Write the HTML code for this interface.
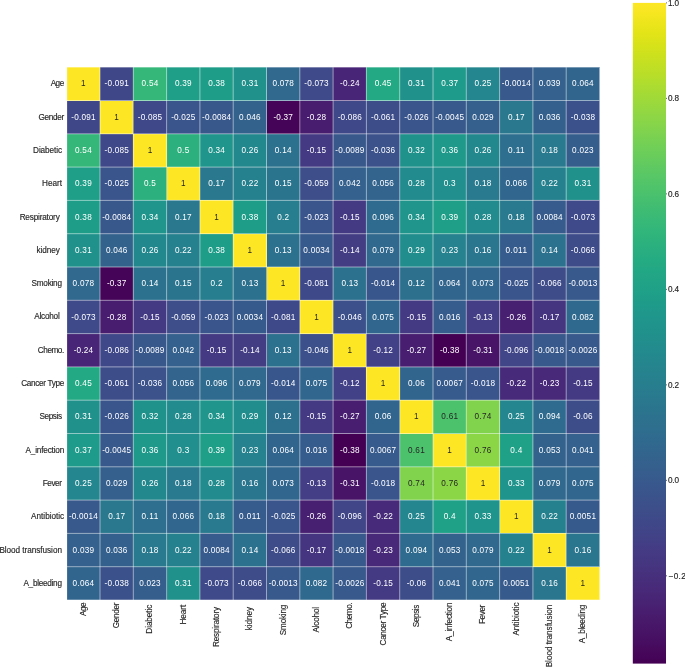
<!DOCTYPE html>
<html><head><meta charset="utf-8"><title>Correlation heatmap</title>
<style>html,body{margin:0;padding:0;background:#fff;width:685px;height:667px;overflow:hidden;font-family:"Liberation Sans",sans-serif}svg{display:block;will-change:transform}</style>
</head><body>
<svg width="685" height="667" viewBox="0 0 685 667">
<rect width="685" height="667" fill="#ffffff"/>
<g shape-rendering="crispEdges"><rect x="66.70" y="67.20" width="33.30" height="33.30" fill="#fde725"/><rect x="100.00" y="67.20" width="33.30" height="33.30" fill="#3f4788"/><rect x="133.30" y="67.20" width="33.30" height="33.30" fill="#35b779"/><rect x="166.60" y="67.20" width="33.30" height="33.30" fill="#1f9f88"/><rect x="199.90" y="67.20" width="33.30" height="33.30" fill="#1e9d89"/><rect x="233.20" y="67.20" width="33.30" height="33.30" fill="#21918c"/><rect x="266.50" y="67.20" width="33.30" height="33.30" fill="#31688e"/><rect x="299.80" y="67.20" width="33.30" height="33.30" fill="#3e4a89"/><rect x="333.10" y="67.20" width="33.30" height="33.30" fill="#482576"/><rect x="366.40" y="67.20" width="33.30" height="33.30" fill="#23a983"/><rect x="399.70" y="67.20" width="33.30" height="33.30" fill="#21918c"/><rect x="433.00" y="67.20" width="33.30" height="33.30" fill="#1e9b8a"/><rect x="466.30" y="67.20" width="33.30" height="33.30" fill="#24868e"/><rect x="499.60" y="67.20" width="33.30" height="33.30" fill="#38598c"/><rect x="532.90" y="67.20" width="33.30" height="33.30" fill="#34618d"/><rect x="566.20" y="67.20" width="33.30" height="33.30" fill="#32658e"/><rect x="66.70" y="100.50" width="33.30" height="33.30" fill="#3f4788"/><rect x="100.00" y="100.50" width="33.30" height="33.30" fill="#fde725"/><rect x="133.30" y="100.50" width="33.30" height="33.30" fill="#3f4889"/><rect x="166.60" y="100.50" width="33.30" height="33.30" fill="#3a548c"/><rect x="199.90" y="100.50" width="33.30" height="33.30" fill="#38588c"/><rect x="233.20" y="100.50" width="33.30" height="33.30" fill="#33628d"/><rect x="266.50" y="100.50" width="33.30" height="33.30" fill="#450457"/><rect x="299.80" y="100.50" width="33.30" height="33.30" fill="#481c6e"/><rect x="333.10" y="100.50" width="33.30" height="33.30" fill="#3f4889"/><rect x="366.40" y="100.50" width="33.30" height="33.30" fill="#3d4d8a"/><rect x="399.70" y="100.50" width="33.30" height="33.30" fill="#3a548c"/><rect x="433.00" y="100.50" width="33.30" height="33.30" fill="#38598c"/><rect x="466.30" y="100.50" width="33.30" height="33.30" fill="#355f8d"/><rect x="499.60" y="100.50" width="33.30" height="33.30" fill="#2a788e"/><rect x="532.90" y="100.50" width="33.30" height="33.30" fill="#34608d"/><rect x="566.20" y="100.50" width="33.30" height="33.30" fill="#3b518b"/><rect x="66.70" y="133.80" width="33.30" height="33.30" fill="#35b779"/><rect x="100.00" y="133.80" width="33.30" height="33.30" fill="#3f4889"/><rect x="133.30" y="133.80" width="33.30" height="33.30" fill="#fde725"/><rect x="166.60" y="133.80" width="33.30" height="33.30" fill="#2cb17e"/><rect x="199.90" y="133.80" width="33.30" height="33.30" fill="#1f958b"/><rect x="233.20" y="133.80" width="33.30" height="33.30" fill="#23888e"/><rect x="266.50" y="133.80" width="33.30" height="33.30" fill="#2c728e"/><rect x="299.80" y="133.80" width="33.30" height="33.30" fill="#443a83"/><rect x="333.10" y="133.80" width="33.30" height="33.30" fill="#38588c"/><rect x="366.40" y="133.80" width="33.30" height="33.30" fill="#3b528b"/><rect x="399.70" y="133.80" width="33.30" height="33.30" fill="#20928c"/><rect x="433.00" y="133.80" width="33.30" height="33.30" fill="#1f998a"/><rect x="466.30" y="133.80" width="33.30" height="33.30" fill="#23888e"/><rect x="499.60" y="133.80" width="33.30" height="33.30" fill="#2e6e8e"/><rect x="532.90" y="133.80" width="33.30" height="33.30" fill="#297a8e"/><rect x="566.20" y="133.80" width="33.30" height="33.30" fill="#355e8d"/><rect x="66.70" y="167.10" width="33.30" height="33.30" fill="#1f9f88"/><rect x="100.00" y="167.10" width="33.30" height="33.30" fill="#3a548c"/><rect x="133.30" y="167.10" width="33.30" height="33.30" fill="#2cb17e"/><rect x="166.60" y="167.10" width="33.30" height="33.30" fill="#fde725"/><rect x="199.90" y="167.10" width="33.30" height="33.30" fill="#2a788e"/><rect x="233.20" y="167.10" width="33.30" height="33.30" fill="#26818e"/><rect x="266.50" y="167.10" width="33.30" height="33.30" fill="#2b748e"/><rect x="299.80" y="167.10" width="33.30" height="33.30" fill="#3d4e8a"/><rect x="333.10" y="167.10" width="33.30" height="33.30" fill="#34618d"/><rect x="366.40" y="167.10" width="33.30" height="33.30" fill="#32648e"/><rect x="399.70" y="167.10" width="33.30" height="33.30" fill="#228b8d"/><rect x="433.00" y="167.10" width="33.30" height="33.30" fill="#218f8d"/><rect x="466.30" y="167.10" width="33.30" height="33.30" fill="#297a8e"/><rect x="499.60" y="167.10" width="33.30" height="33.30" fill="#31668e"/><rect x="532.90" y="167.10" width="33.30" height="33.30" fill="#26818e"/><rect x="566.20" y="167.10" width="33.30" height="33.30" fill="#21918c"/><rect x="66.70" y="200.40" width="33.30" height="33.30" fill="#1e9d89"/><rect x="100.00" y="200.40" width="33.30" height="33.30" fill="#38588c"/><rect x="133.30" y="200.40" width="33.30" height="33.30" fill="#1f958b"/><rect x="166.60" y="200.40" width="33.30" height="33.30" fill="#2a788e"/><rect x="199.90" y="200.40" width="33.30" height="33.30" fill="#fde725"/><rect x="233.20" y="200.40" width="33.30" height="33.30" fill="#1e9d89"/><rect x="266.50" y="200.40" width="33.30" height="33.30" fill="#277e8e"/><rect x="299.80" y="200.40" width="33.30" height="33.30" fill="#3a548c"/><rect x="333.10" y="200.40" width="33.30" height="33.30" fill="#443a83"/><rect x="366.40" y="200.40" width="33.30" height="33.30" fill="#2f6b8e"/><rect x="399.70" y="200.40" width="33.30" height="33.30" fill="#1f958b"/><rect x="433.00" y="200.40" width="33.30" height="33.30" fill="#1f9f88"/><rect x="466.30" y="200.40" width="33.30" height="33.30" fill="#228b8d"/><rect x="499.60" y="200.40" width="33.30" height="33.30" fill="#297a8e"/><rect x="532.90" y="200.40" width="33.30" height="33.30" fill="#375b8d"/><rect x="566.20" y="200.40" width="33.30" height="33.30" fill="#3e4a89"/><rect x="66.70" y="233.70" width="33.30" height="33.30" fill="#21918c"/><rect x="100.00" y="233.70" width="33.30" height="33.30" fill="#33628d"/><rect x="133.30" y="233.70" width="33.30" height="33.30" fill="#23888e"/><rect x="166.60" y="233.70" width="33.30" height="33.30" fill="#26818e"/><rect x="199.90" y="233.70" width="33.30" height="33.30" fill="#1e9d89"/><rect x="233.20" y="233.70" width="33.30" height="33.30" fill="#fde725"/><rect x="266.50" y="233.70" width="33.30" height="33.30" fill="#2c718e"/><rect x="299.80" y="233.70" width="33.30" height="33.30" fill="#375a8c"/><rect x="333.10" y="233.70" width="33.30" height="33.30" fill="#433d84"/><rect x="366.40" y="233.70" width="33.30" height="33.30" fill="#31688e"/><rect x="399.70" y="233.70" width="33.30" height="33.30" fill="#228d8d"/><rect x="433.00" y="233.70" width="33.30" height="33.30" fill="#26828e"/><rect x="466.30" y="233.70" width="33.30" height="33.30" fill="#2a768e"/><rect x="499.60" y="233.70" width="33.30" height="33.30" fill="#365c8d"/><rect x="532.90" y="233.70" width="33.30" height="33.30" fill="#2c728e"/><rect x="566.20" y="233.70" width="33.30" height="33.30" fill="#3e4c8a"/><rect x="66.70" y="267.00" width="33.30" height="33.30" fill="#31688e"/><rect x="100.00" y="267.00" width="33.30" height="33.30" fill="#450457"/><rect x="133.30" y="267.00" width="33.30" height="33.30" fill="#2c728e"/><rect x="166.60" y="267.00" width="33.30" height="33.30" fill="#2b748e"/><rect x="199.90" y="267.00" width="33.30" height="33.30" fill="#277e8e"/><rect x="233.20" y="267.00" width="33.30" height="33.30" fill="#2c718e"/><rect x="266.50" y="267.00" width="33.30" height="33.30" fill="#fde725"/><rect x="299.80" y="267.00" width="33.30" height="33.30" fill="#3e4989"/><rect x="333.10" y="267.00" width="33.30" height="33.30" fill="#2c718e"/><rect x="366.40" y="267.00" width="33.30" height="33.30" fill="#39568c"/><rect x="399.70" y="267.00" width="33.30" height="33.30" fill="#2d708e"/><rect x="433.00" y="267.00" width="33.30" height="33.30" fill="#32658e"/><rect x="466.30" y="267.00" width="33.30" height="33.30" fill="#31678e"/><rect x="499.60" y="267.00" width="33.30" height="33.30" fill="#3a548c"/><rect x="532.90" y="267.00" width="33.30" height="33.30" fill="#3e4c8a"/><rect x="566.20" y="267.00" width="33.30" height="33.30" fill="#38598c"/><rect x="66.70" y="300.30" width="33.30" height="33.30" fill="#3e4a89"/><rect x="100.00" y="300.30" width="33.30" height="33.30" fill="#481c6e"/><rect x="133.30" y="300.30" width="33.30" height="33.30" fill="#443a83"/><rect x="166.60" y="300.30" width="33.30" height="33.30" fill="#3d4e8a"/><rect x="199.90" y="300.30" width="33.30" height="33.30" fill="#3a548c"/><rect x="233.20" y="300.30" width="33.30" height="33.30" fill="#375a8c"/><rect x="266.50" y="300.30" width="33.30" height="33.30" fill="#3e4989"/><rect x="299.80" y="300.30" width="33.30" height="33.30" fill="#fde725"/><rect x="333.10" y="300.30" width="33.30" height="33.30" fill="#3c508b"/><rect x="366.40" y="300.30" width="33.30" height="33.30" fill="#31678e"/><rect x="399.70" y="300.30" width="33.30" height="33.30" fill="#443a83"/><rect x="433.00" y="300.30" width="33.30" height="33.30" fill="#365c8d"/><rect x="466.30" y="300.30" width="33.30" height="33.30" fill="#433e85"/><rect x="499.60" y="300.30" width="33.30" height="33.30" fill="#482071"/><rect x="532.90" y="300.30" width="33.30" height="33.30" fill="#453581"/><rect x="566.20" y="300.30" width="33.30" height="33.30" fill="#30698e"/><rect x="66.70" y="333.60" width="33.30" height="33.30" fill="#482576"/><rect x="100.00" y="333.60" width="33.30" height="33.30" fill="#3f4889"/><rect x="133.30" y="333.60" width="33.30" height="33.30" fill="#38588c"/><rect x="166.60" y="333.60" width="33.30" height="33.30" fill="#34618d"/><rect x="199.90" y="333.60" width="33.30" height="33.30" fill="#443a83"/><rect x="233.20" y="333.60" width="33.30" height="33.30" fill="#433d84"/><rect x="266.50" y="333.60" width="33.30" height="33.30" fill="#2c718e"/><rect x="299.80" y="333.60" width="33.30" height="33.30" fill="#3c508b"/><rect x="333.10" y="333.60" width="33.30" height="33.30" fill="#fde725"/><rect x="366.40" y="333.60" width="33.30" height="33.30" fill="#424086"/><rect x="399.70" y="333.60" width="33.30" height="33.30" fill="#481f70"/><rect x="433.00" y="333.60" width="33.30" height="33.30" fill="#440154"/><rect x="466.30" y="333.60" width="33.30" height="33.30" fill="#481467"/><rect x="499.60" y="333.60" width="33.30" height="33.30" fill="#404688"/><rect x="532.90" y="333.60" width="33.30" height="33.30" fill="#38598c"/><rect x="566.20" y="333.60" width="33.30" height="33.30" fill="#38598c"/><rect x="66.70" y="366.90" width="33.30" height="33.30" fill="#23a983"/><rect x="100.00" y="366.90" width="33.30" height="33.30" fill="#3d4d8a"/><rect x="133.30" y="366.90" width="33.30" height="33.30" fill="#3b528b"/><rect x="166.60" y="366.90" width="33.30" height="33.30" fill="#32648e"/><rect x="199.90" y="366.90" width="33.30" height="33.30" fill="#2f6b8e"/><rect x="233.20" y="366.90" width="33.30" height="33.30" fill="#31688e"/><rect x="266.50" y="366.90" width="33.30" height="33.30" fill="#39568c"/><rect x="299.80" y="366.90" width="33.30" height="33.30" fill="#31678e"/><rect x="333.10" y="366.90" width="33.30" height="33.30" fill="#424086"/><rect x="366.40" y="366.90" width="33.30" height="33.30" fill="#fde725"/><rect x="399.70" y="366.90" width="33.30" height="33.30" fill="#32658e"/><rect x="433.00" y="366.90" width="33.30" height="33.30" fill="#375b8d"/><rect x="466.30" y="366.90" width="33.30" height="33.30" fill="#39558c"/><rect x="499.60" y="366.90" width="33.30" height="33.30" fill="#472a7a"/><rect x="532.90" y="366.90" width="33.30" height="33.30" fill="#482878"/><rect x="566.20" y="366.90" width="33.30" height="33.30" fill="#443a83"/><rect x="66.70" y="400.20" width="33.30" height="33.30" fill="#21918c"/><rect x="100.00" y="400.20" width="33.30" height="33.30" fill="#3a548c"/><rect x="133.30" y="400.20" width="33.30" height="33.30" fill="#20928c"/><rect x="166.60" y="400.20" width="33.30" height="33.30" fill="#228b8d"/><rect x="199.90" y="400.20" width="33.30" height="33.30" fill="#1f958b"/><rect x="233.20" y="400.20" width="33.30" height="33.30" fill="#228d8d"/><rect x="266.50" y="400.20" width="33.30" height="33.30" fill="#2d708e"/><rect x="299.80" y="400.20" width="33.30" height="33.30" fill="#443a83"/><rect x="333.10" y="400.20" width="33.30" height="33.30" fill="#481f70"/><rect x="366.40" y="400.20" width="33.30" height="33.30" fill="#32658e"/><rect x="399.70" y="400.20" width="33.30" height="33.30" fill="#fde725"/><rect x="433.00" y="400.20" width="33.30" height="33.30" fill="#4cc26c"/><rect x="466.30" y="400.20" width="33.30" height="33.30" fill="#81d34d"/><rect x="499.60" y="400.20" width="33.30" height="33.30" fill="#24868e"/><rect x="532.90" y="400.20" width="33.30" height="33.30" fill="#2f6b8e"/><rect x="566.20" y="400.20" width="33.30" height="33.30" fill="#3d4d8a"/><rect x="66.70" y="433.50" width="33.30" height="33.30" fill="#1e9b8a"/><rect x="100.00" y="433.50" width="33.30" height="33.30" fill="#38598c"/><rect x="133.30" y="433.50" width="33.30" height="33.30" fill="#1f998a"/><rect x="166.60" y="433.50" width="33.30" height="33.30" fill="#218f8d"/><rect x="199.90" y="433.50" width="33.30" height="33.30" fill="#1f9f88"/><rect x="233.20" y="433.50" width="33.30" height="33.30" fill="#26828e"/><rect x="266.50" y="433.50" width="33.30" height="33.30" fill="#32658e"/><rect x="299.80" y="433.50" width="33.30" height="33.30" fill="#365c8d"/><rect x="333.10" y="433.50" width="33.30" height="33.30" fill="#440154"/><rect x="366.40" y="433.50" width="33.30" height="33.30" fill="#375b8d"/><rect x="399.70" y="433.50" width="33.30" height="33.30" fill="#4cc26c"/><rect x="433.00" y="433.50" width="33.30" height="33.30" fill="#fde725"/><rect x="466.30" y="433.50" width="33.30" height="33.30" fill="#8bd646"/><rect x="499.60" y="433.50" width="33.30" height="33.30" fill="#1fa188"/><rect x="532.90" y="433.50" width="33.30" height="33.30" fill="#33638d"/><rect x="566.20" y="433.50" width="33.30" height="33.30" fill="#34618d"/><rect x="66.70" y="466.80" width="33.30" height="33.30" fill="#24868e"/><rect x="100.00" y="466.80" width="33.30" height="33.30" fill="#355f8d"/><rect x="133.30" y="466.80" width="33.30" height="33.30" fill="#23888e"/><rect x="166.60" y="466.80" width="33.30" height="33.30" fill="#297a8e"/><rect x="199.90" y="466.80" width="33.30" height="33.30" fill="#228b8d"/><rect x="233.20" y="466.80" width="33.30" height="33.30" fill="#2a768e"/><rect x="266.50" y="466.80" width="33.30" height="33.30" fill="#31678e"/><rect x="299.80" y="466.80" width="33.30" height="33.30" fill="#433e85"/><rect x="333.10" y="466.80" width="33.30" height="33.30" fill="#481467"/><rect x="366.40" y="466.80" width="33.30" height="33.30" fill="#39558c"/><rect x="399.70" y="466.80" width="33.30" height="33.30" fill="#81d34d"/><rect x="433.00" y="466.80" width="33.30" height="33.30" fill="#8bd646"/><rect x="466.30" y="466.80" width="33.30" height="33.30" fill="#fde725"/><rect x="499.60" y="466.80" width="33.30" height="33.30" fill="#1f948c"/><rect x="532.90" y="466.80" width="33.30" height="33.30" fill="#31688e"/><rect x="566.20" y="466.80" width="33.30" height="33.30" fill="#31678e"/><rect x="66.70" y="500.10" width="33.30" height="33.30" fill="#38598c"/><rect x="100.00" y="500.10" width="33.30" height="33.30" fill="#2a788e"/><rect x="133.30" y="500.10" width="33.30" height="33.30" fill="#2e6e8e"/><rect x="166.60" y="500.10" width="33.30" height="33.30" fill="#31668e"/><rect x="199.90" y="500.10" width="33.30" height="33.30" fill="#297a8e"/><rect x="233.20" y="500.10" width="33.30" height="33.30" fill="#365c8d"/><rect x="266.50" y="500.10" width="33.30" height="33.30" fill="#3a548c"/><rect x="299.80" y="500.10" width="33.30" height="33.30" fill="#482071"/><rect x="333.10" y="500.10" width="33.30" height="33.30" fill="#404688"/><rect x="366.40" y="500.10" width="33.30" height="33.30" fill="#472a7a"/><rect x="399.70" y="500.10" width="33.30" height="33.30" fill="#24868e"/><rect x="433.00" y="500.10" width="33.30" height="33.30" fill="#1fa188"/><rect x="466.30" y="500.10" width="33.30" height="33.30" fill="#1f948c"/><rect x="499.60" y="500.10" width="33.30" height="33.30" fill="#fde725"/><rect x="532.90" y="500.10" width="33.30" height="33.30" fill="#26818e"/><rect x="566.20" y="500.10" width="33.30" height="33.30" fill="#375a8c"/><rect x="66.70" y="533.40" width="33.30" height="33.30" fill="#34618d"/><rect x="100.00" y="533.40" width="33.30" height="33.30" fill="#34608d"/><rect x="133.30" y="533.40" width="33.30" height="33.30" fill="#297a8e"/><rect x="166.60" y="533.40" width="33.30" height="33.30" fill="#26818e"/><rect x="199.90" y="533.40" width="33.30" height="33.30" fill="#375b8d"/><rect x="233.20" y="533.40" width="33.30" height="33.30" fill="#2c728e"/><rect x="266.50" y="533.40" width="33.30" height="33.30" fill="#3e4c8a"/><rect x="299.80" y="533.40" width="33.30" height="33.30" fill="#453581"/><rect x="333.10" y="533.40" width="33.30" height="33.30" fill="#38598c"/><rect x="366.40" y="533.40" width="33.30" height="33.30" fill="#482878"/><rect x="399.70" y="533.40" width="33.30" height="33.30" fill="#2f6b8e"/><rect x="433.00" y="533.40" width="33.30" height="33.30" fill="#33638d"/><rect x="466.30" y="533.40" width="33.30" height="33.30" fill="#31688e"/><rect x="499.60" y="533.40" width="33.30" height="33.30" fill="#26818e"/><rect x="532.90" y="533.40" width="33.30" height="33.30" fill="#fde725"/><rect x="566.20" y="533.40" width="33.30" height="33.30" fill="#2a768e"/><rect x="66.70" y="566.70" width="33.30" height="33.30" fill="#32658e"/><rect x="100.00" y="566.70" width="33.30" height="33.30" fill="#3b518b"/><rect x="133.30" y="566.70" width="33.30" height="33.30" fill="#355e8d"/><rect x="166.60" y="566.70" width="33.30" height="33.30" fill="#21918c"/><rect x="199.90" y="566.70" width="33.30" height="33.30" fill="#3e4a89"/><rect x="233.20" y="566.70" width="33.30" height="33.30" fill="#3e4c8a"/><rect x="266.50" y="566.70" width="33.30" height="33.30" fill="#38598c"/><rect x="299.80" y="566.70" width="33.30" height="33.30" fill="#30698e"/><rect x="333.10" y="566.70" width="33.30" height="33.30" fill="#38598c"/><rect x="366.40" y="566.70" width="33.30" height="33.30" fill="#443a83"/><rect x="399.70" y="566.70" width="33.30" height="33.30" fill="#3d4d8a"/><rect x="433.00" y="566.70" width="33.30" height="33.30" fill="#34618d"/><rect x="466.30" y="566.70" width="33.30" height="33.30" fill="#31678e"/><rect x="499.60" y="566.70" width="33.30" height="33.30" fill="#375a8c"/><rect x="532.90" y="566.70" width="33.30" height="33.30" fill="#2a768e"/><rect x="566.20" y="566.70" width="33.30" height="33.30" fill="#fde725"/></g>
<path d="M66.70 67.20V600.00M66.70 67.20H599.50M100.00 67.20V600.00M66.70 100.50H599.50M133.30 67.20V600.00M66.70 133.80H599.50M166.60 67.20V600.00M66.70 167.10H599.50M199.90 67.20V600.00M66.70 200.40H599.50M233.20 67.20V600.00M66.70 233.70H599.50M266.50 67.20V600.00M66.70 267.00H599.50M299.80 67.20V600.00M66.70 300.30H599.50M333.10 67.20V600.00M66.70 333.60H599.50M366.40 67.20V600.00M66.70 366.90H599.50M399.70 67.20V600.00M66.70 400.20H599.50M433.00 67.20V600.00M66.70 433.50H599.50M466.30 67.20V600.00M66.70 466.80H599.50M499.60 67.20V600.00M66.70 500.10H599.50M532.90 67.20V600.00M66.70 533.40H599.50M566.20 67.20V600.00M66.70 566.70H599.50M599.50 67.20V600.00M66.70 600.00H599.50" stroke="#ffffff" stroke-width="0.5" fill="none"/>
<g font-family="Liberation Sans, sans-serif" font-size="8.2" stroke-width="0" opacity="0.999" text-anchor="middle" lengthAdjust="spacingAndGlyphs"><text x="83.35" y="86.45" stroke="#262626" fill="#262626" textLength="4.77">1</text><text x="116.65" y="86.45" stroke="#ffffff" fill="#ffffff" textLength="24.18">-0.091</text><text x="149.95" y="86.45" stroke="#ffffff" fill="#ffffff" textLength="16.70">0.54</text><text x="183.25" y="86.45" stroke="#ffffff" fill="#ffffff" textLength="16.70">0.39</text><text x="216.55" y="86.45" stroke="#ffffff" fill="#ffffff" textLength="16.70">0.38</text><text x="249.85" y="86.45" stroke="#ffffff" fill="#ffffff" textLength="16.70">0.31</text><text x="283.15" y="86.45" stroke="#ffffff" fill="#ffffff" textLength="21.47">0.078</text><text x="316.45" y="86.45" stroke="#ffffff" fill="#ffffff" textLength="24.18">-0.073</text><text x="349.75" y="86.45" stroke="#ffffff" fill="#ffffff" textLength="19.41">-0.24</text><text x="383.05" y="86.45" stroke="#ffffff" fill="#ffffff" textLength="16.70">0.45</text><text x="416.35" y="86.45" stroke="#ffffff" fill="#ffffff" textLength="16.70">0.31</text><text x="449.65" y="86.45" stroke="#ffffff" fill="#ffffff" textLength="16.70">0.37</text><text x="482.95" y="86.45" stroke="#ffffff" fill="#ffffff" textLength="16.70">0.25</text><text x="516.25" y="86.45" stroke="#ffffff" fill="#ffffff" textLength="28.95">-0.0014</text><text x="549.55" y="86.45" stroke="#ffffff" fill="#ffffff" textLength="21.47">0.039</text><text x="582.85" y="86.45" stroke="#ffffff" fill="#ffffff" textLength="21.47">0.064</text><text x="83.35" y="119.75" stroke="#ffffff" fill="#ffffff" textLength="24.18">-0.091</text><text x="116.65" y="119.75" stroke="#262626" fill="#262626" textLength="4.77">1</text><text x="149.95" y="119.75" stroke="#ffffff" fill="#ffffff" textLength="24.18">-0.085</text><text x="183.25" y="119.75" stroke="#ffffff" fill="#ffffff" textLength="24.18">-0.025</text><text x="216.55" y="119.75" stroke="#ffffff" fill="#ffffff" textLength="28.95">-0.0084</text><text x="249.85" y="119.75" stroke="#ffffff" fill="#ffffff" textLength="21.47">0.046</text><text x="283.15" y="119.75" stroke="#ffffff" fill="#ffffff" textLength="19.41">-0.37</text><text x="316.45" y="119.75" stroke="#ffffff" fill="#ffffff" textLength="19.41">-0.28</text><text x="349.75" y="119.75" stroke="#ffffff" fill="#ffffff" textLength="24.18">-0.086</text><text x="383.05" y="119.75" stroke="#ffffff" fill="#ffffff" textLength="24.18">-0.061</text><text x="416.35" y="119.75" stroke="#ffffff" fill="#ffffff" textLength="24.18">-0.026</text><text x="449.65" y="119.75" stroke="#ffffff" fill="#ffffff" textLength="28.95">-0.0045</text><text x="482.95" y="119.75" stroke="#ffffff" fill="#ffffff" textLength="21.47">0.029</text><text x="516.25" y="119.75" stroke="#ffffff" fill="#ffffff" textLength="16.70">0.17</text><text x="549.55" y="119.75" stroke="#ffffff" fill="#ffffff" textLength="21.47">0.036</text><text x="582.85" y="119.75" stroke="#ffffff" fill="#ffffff" textLength="24.18">-0.038</text><text x="83.35" y="153.05" stroke="#ffffff" fill="#ffffff" textLength="16.70">0.54</text><text x="116.65" y="153.05" stroke="#ffffff" fill="#ffffff" textLength="24.18">-0.085</text><text x="149.95" y="153.05" stroke="#262626" fill="#262626" textLength="4.77">1</text><text x="183.25" y="153.05" stroke="#ffffff" fill="#ffffff" textLength="11.93">0.5</text><text x="216.55" y="153.05" stroke="#ffffff" fill="#ffffff" textLength="16.70">0.34</text><text x="249.85" y="153.05" stroke="#ffffff" fill="#ffffff" textLength="16.70">0.26</text><text x="283.15" y="153.05" stroke="#ffffff" fill="#ffffff" textLength="16.70">0.14</text><text x="316.45" y="153.05" stroke="#ffffff" fill="#ffffff" textLength="19.41">-0.15</text><text x="349.75" y="153.05" stroke="#ffffff" fill="#ffffff" textLength="28.95">-0.0089</text><text x="383.05" y="153.05" stroke="#ffffff" fill="#ffffff" textLength="24.18">-0.036</text><text x="416.35" y="153.05" stroke="#ffffff" fill="#ffffff" textLength="16.70">0.32</text><text x="449.65" y="153.05" stroke="#ffffff" fill="#ffffff" textLength="16.70">0.36</text><text x="482.95" y="153.05" stroke="#ffffff" fill="#ffffff" textLength="16.70">0.26</text><text x="516.25" y="153.05" stroke="#ffffff" fill="#ffffff" textLength="16.70">0.11</text><text x="549.55" y="153.05" stroke="#ffffff" fill="#ffffff" textLength="16.70">0.18</text><text x="582.85" y="153.05" stroke="#ffffff" fill="#ffffff" textLength="21.47">0.023</text><text x="83.35" y="186.35" stroke="#ffffff" fill="#ffffff" textLength="16.70">0.39</text><text x="116.65" y="186.35" stroke="#ffffff" fill="#ffffff" textLength="24.18">-0.025</text><text x="149.95" y="186.35" stroke="#ffffff" fill="#ffffff" textLength="11.93">0.5</text><text x="183.25" y="186.35" stroke="#262626" fill="#262626" textLength="4.77">1</text><text x="216.55" y="186.35" stroke="#ffffff" fill="#ffffff" textLength="16.70">0.17</text><text x="249.85" y="186.35" stroke="#ffffff" fill="#ffffff" textLength="16.70">0.22</text><text x="283.15" y="186.35" stroke="#ffffff" fill="#ffffff" textLength="16.70">0.15</text><text x="316.45" y="186.35" stroke="#ffffff" fill="#ffffff" textLength="24.18">-0.059</text><text x="349.75" y="186.35" stroke="#ffffff" fill="#ffffff" textLength="21.47">0.042</text><text x="383.05" y="186.35" stroke="#ffffff" fill="#ffffff" textLength="21.47">0.056</text><text x="416.35" y="186.35" stroke="#ffffff" fill="#ffffff" textLength="16.70">0.28</text><text x="449.65" y="186.35" stroke="#ffffff" fill="#ffffff" textLength="11.93">0.3</text><text x="482.95" y="186.35" stroke="#ffffff" fill="#ffffff" textLength="16.70">0.18</text><text x="516.25" y="186.35" stroke="#ffffff" fill="#ffffff" textLength="21.47">0.066</text><text x="549.55" y="186.35" stroke="#ffffff" fill="#ffffff" textLength="16.70">0.22</text><text x="582.85" y="186.35" stroke="#ffffff" fill="#ffffff" textLength="16.70">0.31</text><text x="83.35" y="219.65" stroke="#ffffff" fill="#ffffff" textLength="16.70">0.38</text><text x="116.65" y="219.65" stroke="#ffffff" fill="#ffffff" textLength="28.95">-0.0084</text><text x="149.95" y="219.65" stroke="#ffffff" fill="#ffffff" textLength="16.70">0.34</text><text x="183.25" y="219.65" stroke="#ffffff" fill="#ffffff" textLength="16.70">0.17</text><text x="216.55" y="219.65" stroke="#262626" fill="#262626" textLength="4.77">1</text><text x="249.85" y="219.65" stroke="#ffffff" fill="#ffffff" textLength="16.70">0.38</text><text x="283.15" y="219.65" stroke="#ffffff" fill="#ffffff" textLength="11.93">0.2</text><text x="316.45" y="219.65" stroke="#ffffff" fill="#ffffff" textLength="24.18">-0.023</text><text x="349.75" y="219.65" stroke="#ffffff" fill="#ffffff" textLength="19.41">-0.15</text><text x="383.05" y="219.65" stroke="#ffffff" fill="#ffffff" textLength="21.47">0.096</text><text x="416.35" y="219.65" stroke="#ffffff" fill="#ffffff" textLength="16.70">0.34</text><text x="449.65" y="219.65" stroke="#ffffff" fill="#ffffff" textLength="16.70">0.39</text><text x="482.95" y="219.65" stroke="#ffffff" fill="#ffffff" textLength="16.70">0.28</text><text x="516.25" y="219.65" stroke="#ffffff" fill="#ffffff" textLength="16.70">0.18</text><text x="549.55" y="219.65" stroke="#ffffff" fill="#ffffff" textLength="26.24">0.0084</text><text x="582.85" y="219.65" stroke="#ffffff" fill="#ffffff" textLength="24.18">-0.073</text><text x="83.35" y="252.95" stroke="#ffffff" fill="#ffffff" textLength="16.70">0.31</text><text x="116.65" y="252.95" stroke="#ffffff" fill="#ffffff" textLength="21.47">0.046</text><text x="149.95" y="252.95" stroke="#ffffff" fill="#ffffff" textLength="16.70">0.26</text><text x="183.25" y="252.95" stroke="#ffffff" fill="#ffffff" textLength="16.70">0.22</text><text x="216.55" y="252.95" stroke="#ffffff" fill="#ffffff" textLength="16.70">0.38</text><text x="249.85" y="252.95" stroke="#262626" fill="#262626" textLength="4.77">1</text><text x="283.15" y="252.95" stroke="#ffffff" fill="#ffffff" textLength="16.70">0.13</text><text x="316.45" y="252.95" stroke="#ffffff" fill="#ffffff" textLength="26.24">0.0034</text><text x="349.75" y="252.95" stroke="#ffffff" fill="#ffffff" textLength="19.41">-0.14</text><text x="383.05" y="252.95" stroke="#ffffff" fill="#ffffff" textLength="21.47">0.079</text><text x="416.35" y="252.95" stroke="#ffffff" fill="#ffffff" textLength="16.70">0.29</text><text x="449.65" y="252.95" stroke="#ffffff" fill="#ffffff" textLength="16.70">0.23</text><text x="482.95" y="252.95" stroke="#ffffff" fill="#ffffff" textLength="16.70">0.16</text><text x="516.25" y="252.95" stroke="#ffffff" fill="#ffffff" textLength="21.47">0.011</text><text x="549.55" y="252.95" stroke="#ffffff" fill="#ffffff" textLength="16.70">0.14</text><text x="582.85" y="252.95" stroke="#ffffff" fill="#ffffff" textLength="24.18">-0.066</text><text x="83.35" y="286.25" stroke="#ffffff" fill="#ffffff" textLength="21.47">0.078</text><text x="116.65" y="286.25" stroke="#ffffff" fill="#ffffff" textLength="19.41">-0.37</text><text x="149.95" y="286.25" stroke="#ffffff" fill="#ffffff" textLength="16.70">0.14</text><text x="183.25" y="286.25" stroke="#ffffff" fill="#ffffff" textLength="16.70">0.15</text><text x="216.55" y="286.25" stroke="#ffffff" fill="#ffffff" textLength="11.93">0.2</text><text x="249.85" y="286.25" stroke="#ffffff" fill="#ffffff" textLength="16.70">0.13</text><text x="283.15" y="286.25" stroke="#262626" fill="#262626" textLength="4.77">1</text><text x="316.45" y="286.25" stroke="#ffffff" fill="#ffffff" textLength="24.18">-0.081</text><text x="349.75" y="286.25" stroke="#ffffff" fill="#ffffff" textLength="16.70">0.13</text><text x="383.05" y="286.25" stroke="#ffffff" fill="#ffffff" textLength="24.18">-0.014</text><text x="416.35" y="286.25" stroke="#ffffff" fill="#ffffff" textLength="16.70">0.12</text><text x="449.65" y="286.25" stroke="#ffffff" fill="#ffffff" textLength="21.47">0.064</text><text x="482.95" y="286.25" stroke="#ffffff" fill="#ffffff" textLength="21.47">0.073</text><text x="516.25" y="286.25" stroke="#ffffff" fill="#ffffff" textLength="24.18">-0.025</text><text x="549.55" y="286.25" stroke="#ffffff" fill="#ffffff" textLength="24.18">-0.066</text><text x="582.85" y="286.25" stroke="#ffffff" fill="#ffffff" textLength="28.95">-0.0013</text><text x="83.35" y="319.55" stroke="#ffffff" fill="#ffffff" textLength="24.18">-0.073</text><text x="116.65" y="319.55" stroke="#ffffff" fill="#ffffff" textLength="19.41">-0.28</text><text x="149.95" y="319.55" stroke="#ffffff" fill="#ffffff" textLength="19.41">-0.15</text><text x="183.25" y="319.55" stroke="#ffffff" fill="#ffffff" textLength="24.18">-0.059</text><text x="216.55" y="319.55" stroke="#ffffff" fill="#ffffff" textLength="24.18">-0.023</text><text x="249.85" y="319.55" stroke="#ffffff" fill="#ffffff" textLength="26.24">0.0034</text><text x="283.15" y="319.55" stroke="#ffffff" fill="#ffffff" textLength="24.18">-0.081</text><text x="316.45" y="319.55" stroke="#262626" fill="#262626" textLength="4.77">1</text><text x="349.75" y="319.55" stroke="#ffffff" fill="#ffffff" textLength="24.18">-0.046</text><text x="383.05" y="319.55" stroke="#ffffff" fill="#ffffff" textLength="21.47">0.075</text><text x="416.35" y="319.55" stroke="#ffffff" fill="#ffffff" textLength="19.41">-0.15</text><text x="449.65" y="319.55" stroke="#ffffff" fill="#ffffff" textLength="21.47">0.016</text><text x="482.95" y="319.55" stroke="#ffffff" fill="#ffffff" textLength="19.41">-0.13</text><text x="516.25" y="319.55" stroke="#ffffff" fill="#ffffff" textLength="19.41">-0.26</text><text x="549.55" y="319.55" stroke="#ffffff" fill="#ffffff" textLength="19.41">-0.17</text><text x="582.85" y="319.55" stroke="#ffffff" fill="#ffffff" textLength="21.47">0.082</text><text x="83.35" y="352.85" stroke="#ffffff" fill="#ffffff" textLength="19.41">-0.24</text><text x="116.65" y="352.85" stroke="#ffffff" fill="#ffffff" textLength="24.18">-0.086</text><text x="149.95" y="352.85" stroke="#ffffff" fill="#ffffff" textLength="28.95">-0.0089</text><text x="183.25" y="352.85" stroke="#ffffff" fill="#ffffff" textLength="21.47">0.042</text><text x="216.55" y="352.85" stroke="#ffffff" fill="#ffffff" textLength="19.41">-0.15</text><text x="249.85" y="352.85" stroke="#ffffff" fill="#ffffff" textLength="19.41">-0.14</text><text x="283.15" y="352.85" stroke="#ffffff" fill="#ffffff" textLength="16.70">0.13</text><text x="316.45" y="352.85" stroke="#ffffff" fill="#ffffff" textLength="24.18">-0.046</text><text x="349.75" y="352.85" stroke="#262626" fill="#262626" textLength="4.77">1</text><text x="383.05" y="352.85" stroke="#ffffff" fill="#ffffff" textLength="19.41">-0.12</text><text x="416.35" y="352.85" stroke="#ffffff" fill="#ffffff" textLength="19.41">-0.27</text><text x="449.65" y="352.85" stroke="#ffffff" fill="#ffffff" textLength="19.41">-0.38</text><text x="482.95" y="352.85" stroke="#ffffff" fill="#ffffff" textLength="19.41">-0.31</text><text x="516.25" y="352.85" stroke="#ffffff" fill="#ffffff" textLength="24.18">-0.096</text><text x="549.55" y="352.85" stroke="#ffffff" fill="#ffffff" textLength="28.95">-0.0018</text><text x="582.85" y="352.85" stroke="#ffffff" fill="#ffffff" textLength="28.95">-0.0026</text><text x="83.35" y="386.15" stroke="#ffffff" fill="#ffffff" textLength="16.70">0.45</text><text x="116.65" y="386.15" stroke="#ffffff" fill="#ffffff" textLength="24.18">-0.061</text><text x="149.95" y="386.15" stroke="#ffffff" fill="#ffffff" textLength="24.18">-0.036</text><text x="183.25" y="386.15" stroke="#ffffff" fill="#ffffff" textLength="21.47">0.056</text><text x="216.55" y="386.15" stroke="#ffffff" fill="#ffffff" textLength="21.47">0.096</text><text x="249.85" y="386.15" stroke="#ffffff" fill="#ffffff" textLength="21.47">0.079</text><text x="283.15" y="386.15" stroke="#ffffff" fill="#ffffff" textLength="24.18">-0.014</text><text x="316.45" y="386.15" stroke="#ffffff" fill="#ffffff" textLength="21.47">0.075</text><text x="349.75" y="386.15" stroke="#ffffff" fill="#ffffff" textLength="19.41">-0.12</text><text x="383.05" y="386.15" stroke="#262626" fill="#262626" textLength="4.77">1</text><text x="416.35" y="386.15" stroke="#ffffff" fill="#ffffff" textLength="16.70">0.06</text><text x="449.65" y="386.15" stroke="#ffffff" fill="#ffffff" textLength="26.24">0.0067</text><text x="482.95" y="386.15" stroke="#ffffff" fill="#ffffff" textLength="24.18">-0.018</text><text x="516.25" y="386.15" stroke="#ffffff" fill="#ffffff" textLength="19.41">-0.22</text><text x="549.55" y="386.15" stroke="#ffffff" fill="#ffffff" textLength="19.41">-0.23</text><text x="582.85" y="386.15" stroke="#ffffff" fill="#ffffff" textLength="19.41">-0.15</text><text x="83.35" y="419.45" stroke="#ffffff" fill="#ffffff" textLength="16.70">0.31</text><text x="116.65" y="419.45" stroke="#ffffff" fill="#ffffff" textLength="24.18">-0.026</text><text x="149.95" y="419.45" stroke="#ffffff" fill="#ffffff" textLength="16.70">0.32</text><text x="183.25" y="419.45" stroke="#ffffff" fill="#ffffff" textLength="16.70">0.28</text><text x="216.55" y="419.45" stroke="#ffffff" fill="#ffffff" textLength="16.70">0.34</text><text x="249.85" y="419.45" stroke="#ffffff" fill="#ffffff" textLength="16.70">0.29</text><text x="283.15" y="419.45" stroke="#ffffff" fill="#ffffff" textLength="16.70">0.12</text><text x="316.45" y="419.45" stroke="#ffffff" fill="#ffffff" textLength="19.41">-0.15</text><text x="349.75" y="419.45" stroke="#ffffff" fill="#ffffff" textLength="19.41">-0.27</text><text x="383.05" y="419.45" stroke="#ffffff" fill="#ffffff" textLength="16.70">0.06</text><text x="416.35" y="419.45" stroke="#262626" fill="#262626" textLength="4.77">1</text><text x="449.65" y="419.45" stroke="#262626" fill="#262626" textLength="16.70">0.61</text><text x="482.95" y="419.45" stroke="#262626" fill="#262626" textLength="16.70">0.74</text><text x="516.25" y="419.45" stroke="#ffffff" fill="#ffffff" textLength="16.70">0.25</text><text x="549.55" y="419.45" stroke="#ffffff" fill="#ffffff" textLength="21.47">0.094</text><text x="582.85" y="419.45" stroke="#ffffff" fill="#ffffff" textLength="19.41">-0.06</text><text x="83.35" y="452.75" stroke="#ffffff" fill="#ffffff" textLength="16.70">0.37</text><text x="116.65" y="452.75" stroke="#ffffff" fill="#ffffff" textLength="28.95">-0.0045</text><text x="149.95" y="452.75" stroke="#ffffff" fill="#ffffff" textLength="16.70">0.36</text><text x="183.25" y="452.75" stroke="#ffffff" fill="#ffffff" textLength="11.93">0.3</text><text x="216.55" y="452.75" stroke="#ffffff" fill="#ffffff" textLength="16.70">0.39</text><text x="249.85" y="452.75" stroke="#ffffff" fill="#ffffff" textLength="16.70">0.23</text><text x="283.15" y="452.75" stroke="#ffffff" fill="#ffffff" textLength="21.47">0.064</text><text x="316.45" y="452.75" stroke="#ffffff" fill="#ffffff" textLength="21.47">0.016</text><text x="349.75" y="452.75" stroke="#ffffff" fill="#ffffff" textLength="19.41">-0.38</text><text x="383.05" y="452.75" stroke="#ffffff" fill="#ffffff" textLength="26.24">0.0067</text><text x="416.35" y="452.75" stroke="#262626" fill="#262626" textLength="16.70">0.61</text><text x="449.65" y="452.75" stroke="#262626" fill="#262626" textLength="4.77">1</text><text x="482.95" y="452.75" stroke="#262626" fill="#262626" textLength="16.70">0.76</text><text x="516.25" y="452.75" stroke="#ffffff" fill="#ffffff" textLength="11.93">0.4</text><text x="549.55" y="452.75" stroke="#ffffff" fill="#ffffff" textLength="21.47">0.053</text><text x="582.85" y="452.75" stroke="#ffffff" fill="#ffffff" textLength="21.47">0.041</text><text x="83.35" y="486.05" stroke="#ffffff" fill="#ffffff" textLength="16.70">0.25</text><text x="116.65" y="486.05" stroke="#ffffff" fill="#ffffff" textLength="21.47">0.029</text><text x="149.95" y="486.05" stroke="#ffffff" fill="#ffffff" textLength="16.70">0.26</text><text x="183.25" y="486.05" stroke="#ffffff" fill="#ffffff" textLength="16.70">0.18</text><text x="216.55" y="486.05" stroke="#ffffff" fill="#ffffff" textLength="16.70">0.28</text><text x="249.85" y="486.05" stroke="#ffffff" fill="#ffffff" textLength="16.70">0.16</text><text x="283.15" y="486.05" stroke="#ffffff" fill="#ffffff" textLength="21.47">0.073</text><text x="316.45" y="486.05" stroke="#ffffff" fill="#ffffff" textLength="19.41">-0.13</text><text x="349.75" y="486.05" stroke="#ffffff" fill="#ffffff" textLength="19.41">-0.31</text><text x="383.05" y="486.05" stroke="#ffffff" fill="#ffffff" textLength="24.18">-0.018</text><text x="416.35" y="486.05" stroke="#262626" fill="#262626" textLength="16.70">0.74</text><text x="449.65" y="486.05" stroke="#262626" fill="#262626" textLength="16.70">0.76</text><text x="482.95" y="486.05" stroke="#262626" fill="#262626" textLength="4.77">1</text><text x="516.25" y="486.05" stroke="#ffffff" fill="#ffffff" textLength="16.70">0.33</text><text x="549.55" y="486.05" stroke="#ffffff" fill="#ffffff" textLength="21.47">0.079</text><text x="582.85" y="486.05" stroke="#ffffff" fill="#ffffff" textLength="21.47">0.075</text><text x="83.35" y="519.35" stroke="#ffffff" fill="#ffffff" textLength="28.95">-0.0014</text><text x="116.65" y="519.35" stroke="#ffffff" fill="#ffffff" textLength="16.70">0.17</text><text x="149.95" y="519.35" stroke="#ffffff" fill="#ffffff" textLength="16.70">0.11</text><text x="183.25" y="519.35" stroke="#ffffff" fill="#ffffff" textLength="21.47">0.066</text><text x="216.55" y="519.35" stroke="#ffffff" fill="#ffffff" textLength="16.70">0.18</text><text x="249.85" y="519.35" stroke="#ffffff" fill="#ffffff" textLength="21.47">0.011</text><text x="283.15" y="519.35" stroke="#ffffff" fill="#ffffff" textLength="24.18">-0.025</text><text x="316.45" y="519.35" stroke="#ffffff" fill="#ffffff" textLength="19.41">-0.26</text><text x="349.75" y="519.35" stroke="#ffffff" fill="#ffffff" textLength="24.18">-0.096</text><text x="383.05" y="519.35" stroke="#ffffff" fill="#ffffff" textLength="19.41">-0.22</text><text x="416.35" y="519.35" stroke="#ffffff" fill="#ffffff" textLength="16.70">0.25</text><text x="449.65" y="519.35" stroke="#ffffff" fill="#ffffff" textLength="11.93">0.4</text><text x="482.95" y="519.35" stroke="#ffffff" fill="#ffffff" textLength="16.70">0.33</text><text x="516.25" y="519.35" stroke="#262626" fill="#262626" textLength="4.77">1</text><text x="549.55" y="519.35" stroke="#ffffff" fill="#ffffff" textLength="16.70">0.22</text><text x="582.85" y="519.35" stroke="#ffffff" fill="#ffffff" textLength="26.24">0.0051</text><text x="83.35" y="552.65" stroke="#ffffff" fill="#ffffff" textLength="21.47">0.039</text><text x="116.65" y="552.65" stroke="#ffffff" fill="#ffffff" textLength="21.47">0.036</text><text x="149.95" y="552.65" stroke="#ffffff" fill="#ffffff" textLength="16.70">0.18</text><text x="183.25" y="552.65" stroke="#ffffff" fill="#ffffff" textLength="16.70">0.22</text><text x="216.55" y="552.65" stroke="#ffffff" fill="#ffffff" textLength="26.24">0.0084</text><text x="249.85" y="552.65" stroke="#ffffff" fill="#ffffff" textLength="16.70">0.14</text><text x="283.15" y="552.65" stroke="#ffffff" fill="#ffffff" textLength="24.18">-0.066</text><text x="316.45" y="552.65" stroke="#ffffff" fill="#ffffff" textLength="19.41">-0.17</text><text x="349.75" y="552.65" stroke="#ffffff" fill="#ffffff" textLength="28.95">-0.0018</text><text x="383.05" y="552.65" stroke="#ffffff" fill="#ffffff" textLength="19.41">-0.23</text><text x="416.35" y="552.65" stroke="#ffffff" fill="#ffffff" textLength="21.47">0.094</text><text x="449.65" y="552.65" stroke="#ffffff" fill="#ffffff" textLength="21.47">0.053</text><text x="482.95" y="552.65" stroke="#ffffff" fill="#ffffff" textLength="21.47">0.079</text><text x="516.25" y="552.65" stroke="#ffffff" fill="#ffffff" textLength="16.70">0.22</text><text x="549.55" y="552.65" stroke="#262626" fill="#262626" textLength="4.77">1</text><text x="582.85" y="552.65" stroke="#ffffff" fill="#ffffff" textLength="16.70">0.16</text><text x="83.35" y="585.95" stroke="#ffffff" fill="#ffffff" textLength="21.47">0.064</text><text x="116.65" y="585.95" stroke="#ffffff" fill="#ffffff" textLength="24.18">-0.038</text><text x="149.95" y="585.95" stroke="#ffffff" fill="#ffffff" textLength="21.47">0.023</text><text x="183.25" y="585.95" stroke="#ffffff" fill="#ffffff" textLength="16.70">0.31</text><text x="216.55" y="585.95" stroke="#ffffff" fill="#ffffff" textLength="24.18">-0.073</text><text x="249.85" y="585.95" stroke="#ffffff" fill="#ffffff" textLength="24.18">-0.066</text><text x="283.15" y="585.95" stroke="#ffffff" fill="#ffffff" textLength="28.95">-0.0013</text><text x="316.45" y="585.95" stroke="#ffffff" fill="#ffffff" textLength="21.47">0.082</text><text x="349.75" y="585.95" stroke="#ffffff" fill="#ffffff" textLength="28.95">-0.0026</text><text x="383.05" y="585.95" stroke="#ffffff" fill="#ffffff" textLength="19.41">-0.15</text><text x="416.35" y="585.95" stroke="#ffffff" fill="#ffffff" textLength="19.41">-0.06</text><text x="449.65" y="585.95" stroke="#ffffff" fill="#ffffff" textLength="21.47">0.041</text><text x="482.95" y="585.95" stroke="#ffffff" fill="#ffffff" textLength="21.47">0.075</text><text x="516.25" y="585.95" stroke="#ffffff" fill="#ffffff" textLength="26.24">0.0051</text><text x="549.55" y="585.95" stroke="#ffffff" fill="#ffffff" textLength="16.70">0.16</text><text x="582.85" y="585.95" stroke="#262626" fill="#262626" textLength="4.77">1</text></g>
<g font-family="Liberation Sans, sans-serif" font-size="8.2" fill="#262626" stroke="#262626" stroke-width="0.15" opacity="0.999" text-anchor="end" lengthAdjust="spacingAndGlyphs"><text x="64.20" y="86.35" textLength="13.54">Age</text><text x="64.20" y="119.65" textLength="25.80">Gender</text><text x="61.97" y="152.95" textLength="28.91">Diabetic</text><text x="61.97" y="186.25" textLength="19.88">Heart</text><text x="59.74" y="219.55" textLength="40.11">Respiratory</text><text x="59.74" y="252.85" textLength="23.33">kidney</text><text x="61.97" y="286.15" textLength="30.42">Smoking</text><text x="59.74" y="319.45" textLength="25.53">Alcohol</text><text x="64.20" y="352.75" textLength="26.33">Chemo.</text><text x="64.20" y="386.05" textLength="42.95">Cancer Type</text><text x="61.97" y="419.35" textLength="22.43">Sepsis</text><text x="64.20" y="452.65" textLength="38.70">A_infection</text><text x="61.97" y="485.95" textLength="19.28">Fever</text><text x="64.20" y="519.25" textLength="33.12">Antibiotic</text><text x="61.97" y="552.55" textLength="62.59">Blood transfusion</text><text x="61.97" y="585.85" textLength="38.56">A_bleeding</text></g>
<g font-family="Liberation Sans, sans-serif" font-size="8.2" fill="#262626" stroke="#262626" stroke-width="0.15" opacity="0.999" text-anchor="end" lengthAdjust="spacingAndGlyphs"><text transform="translate(85.85 602.50) rotate(-90)" textLength="13.54">Age</text><text transform="translate(119.15 602.50) rotate(-90)" textLength="25.80">Gender</text><text transform="translate(152.45 604.73) rotate(-90)" textLength="28.91">Diabetic</text><text transform="translate(185.75 604.73) rotate(-90)" textLength="19.88">Heart</text><text transform="translate(219.05 606.96) rotate(-90)" textLength="40.11">Respiratory</text><text transform="translate(252.35 606.96) rotate(-90)" textLength="23.33">kidney</text><text transform="translate(285.65 604.73) rotate(-90)" textLength="30.42">Smoking</text><text transform="translate(318.95 606.96) rotate(-90)" textLength="25.53">Alcohol</text><text transform="translate(352.25 602.50) rotate(-90)" textLength="26.33">Chemo.</text><text transform="translate(385.55 602.50) rotate(-90)" textLength="42.95">Cancer Type</text><text transform="translate(418.85 604.73) rotate(-90)" textLength="22.43">Sepsis</text><text transform="translate(452.15 602.50) rotate(-90)" textLength="38.70">A_infection</text><text transform="translate(485.45 604.73) rotate(-90)" textLength="19.28">Fever</text><text transform="translate(518.75 602.50) rotate(-90)" textLength="33.12">Antibiotic</text><text transform="translate(552.05 604.73) rotate(-90)" textLength="62.59">Blood transfusion</text><text transform="translate(585.35 604.73) rotate(-90)" textLength="38.56">A_bleeding</text></g>
<defs><linearGradient id="cb" x1="0" y1="0" x2="0" y2="1"><stop offset="0.0000" stop-color="#fde725"/><stop offset="0.0156" stop-color="#f6e620"/><stop offset="0.0312" stop-color="#ece51b"/><stop offset="0.0469" stop-color="#e2e418"/><stop offset="0.0625" stop-color="#d8e219"/><stop offset="0.0781" stop-color="#cde11d"/><stop offset="0.0938" stop-color="#c2df23"/><stop offset="0.1094" stop-color="#b8de29"/><stop offset="0.1250" stop-color="#addc30"/><stop offset="0.1406" stop-color="#a2da37"/><stop offset="0.1562" stop-color="#98d83e"/><stop offset="0.1719" stop-color="#8ed645"/><stop offset="0.1875" stop-color="#84d44b"/><stop offset="0.2031" stop-color="#7ad151"/><stop offset="0.2188" stop-color="#70cf57"/><stop offset="0.2344" stop-color="#67cc5c"/><stop offset="0.2500" stop-color="#5ec962"/><stop offset="0.2656" stop-color="#56c667"/><stop offset="0.2812" stop-color="#4ec36b"/><stop offset="0.2969" stop-color="#46c06f"/><stop offset="0.3125" stop-color="#3fbc73"/><stop offset="0.3281" stop-color="#38b977"/><stop offset="0.3438" stop-color="#32b67a"/><stop offset="0.3594" stop-color="#2db27d"/><stop offset="0.3750" stop-color="#28ae80"/><stop offset="0.3906" stop-color="#25ab82"/><stop offset="0.4062" stop-color="#22a785"/><stop offset="0.4219" stop-color="#20a386"/><stop offset="0.4375" stop-color="#1fa088"/><stop offset="0.4531" stop-color="#1e9c89"/><stop offset="0.4688" stop-color="#1f988b"/><stop offset="0.4844" stop-color="#1f948c"/><stop offset="0.5000" stop-color="#21918c"/><stop offset="0.5156" stop-color="#228d8d"/><stop offset="0.5312" stop-color="#23898e"/><stop offset="0.5469" stop-color="#25858e"/><stop offset="0.5625" stop-color="#26828e"/><stop offset="0.5781" stop-color="#277e8e"/><stop offset="0.5938" stop-color="#297a8e"/><stop offset="0.6094" stop-color="#2a768e"/><stop offset="0.6250" stop-color="#2c728e"/><stop offset="0.6406" stop-color="#2e6f8e"/><stop offset="0.6562" stop-color="#2f6b8e"/><stop offset="0.6719" stop-color="#31678e"/><stop offset="0.6875" stop-color="#33638d"/><stop offset="0.7031" stop-color="#355f8d"/><stop offset="0.7188" stop-color="#375b8d"/><stop offset="0.7344" stop-color="#39568c"/><stop offset="0.7500" stop-color="#3b528b"/><stop offset="0.7656" stop-color="#3d4e8a"/><stop offset="0.7812" stop-color="#3e4989"/><stop offset="0.7969" stop-color="#404588"/><stop offset="0.8125" stop-color="#424086"/><stop offset="0.8281" stop-color="#443b84"/><stop offset="0.8438" stop-color="#453781"/><stop offset="0.8594" stop-color="#46327e"/><stop offset="0.8750" stop-color="#472d7b"/><stop offset="0.8906" stop-color="#482878"/><stop offset="0.9062" stop-color="#482374"/><stop offset="0.9219" stop-color="#481d6f"/><stop offset="0.9375" stop-color="#48186a"/><stop offset="0.9531" stop-color="#471365"/><stop offset="0.9688" stop-color="#470d60"/><stop offset="0.9844" stop-color="#46075a"/><stop offset="1.0000" stop-color="#440154"/></linearGradient></defs>
<rect x="632.8" y="2.9" width="33.20" height="660.70" fill="url(#cb)"/>
<path d="M666.00 2.90h0.9M666.00 98.39h0.9M666.00 193.88h0.9M666.00 289.37h0.9M666.00 384.86h0.9M666.00 480.35h0.9M666.00 575.84h0.9" stroke="#262626" stroke-width="0.8" fill="none"/>
<g font-family="Liberation Sans, sans-serif" font-size="8.2" fill="#262626" stroke="#262626" stroke-width="0.15" opacity="0.999" lengthAdjust="spacingAndGlyphs"><text x="667.90" y="6.00" textLength="11.13">1.0</text><text x="667.90" y="101.49" textLength="11.13">0.8</text><text x="667.90" y="196.98" textLength="11.13">0.6</text><text x="667.90" y="292.47" textLength="11.13">0.4</text><text x="667.90" y="387.96" textLength="11.13">0.2</text><text x="667.90" y="483.45" textLength="11.13">0.0</text><text x="668.70" y="578.94" textLength="17.00">−0.2</text></g>
</svg>
</body></html>
